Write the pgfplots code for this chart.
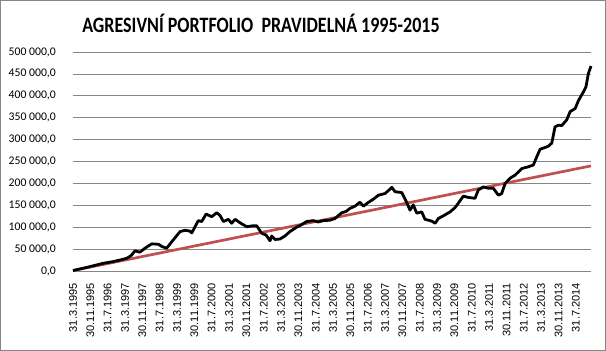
\documentclass[border=0pt]{standalone}
\usepackage{pgfplots}
\pgfplotsset{compat=1.18}
\usepackage{fontspec}
\setmainfont{Carlito}
\newfontfamily\arialf{Liberation Sans}
\definecolor{gridgray}{RGB}{134,134,134}
\definecolor{redline}{RGB}{192,80,77}
\begin{document}
\begin{tikzpicture}
\begin{axis}[
  at={(0pt,0pt)}, anchor=south west,
  scale only axis, width=518pt, height=219pt,
  xmin=0, xmax=239, ymin=0, ymax=500000,
  axis x line*=bottom, axis y line*=left,
  y axis line style={draw=none},
  x axis line style={draw=gridgray, line width=0.8pt},
  major tick length=0pt,
  scaled y ticks=false,
  ymajorgrids, grid style={gridgray, line width=0.8pt},
  ytick={0,50000,...,500000},
  yticklabels={{0,0},{50 000,0},{100 000,0},{150 000,0},{200 000,0},{250 000,0},{300 000,0},{350 000,0},{400 000,0},{450 000,0},{500 000,0}},
  yticklabel style={font=\fontsize{11.7}{12}\selectfont, anchor=east, inner sep=0pt},
  yticklabel shift=17pt,
  xtick={0,8,...,232},
  xticklabels={31.3.1995,30.11.1995,31.7.1996,31.3.1997,30.11.1997,31.7.1998,31.3.1999,30.11.1999,31.7.2000,31.3.2001,30.11.2001,31.7.2002,31.3.2003,30.11.2003,31.7.2004,31.3.2005,30.11.2005,31.7.2006,31.3.2007,30.11.2007,31.7.2008,31.3.2009,30.11.2009,31.7.2010,31.3.2011,30.11.2011,31.7.2012,31.3.2013,30.11.2013,31.7.2014},
  xticklabel style={font=\arialf\fontsize{11}{12}\selectfont, rotate=90, anchor=east, inner sep=0pt},
  xticklabel shift=12pt,
  clip=false,
]
\addplot[redline, line width=2.7pt] coordinates {(0,1000) (239,240000)};
\addplot[black, line width=2.8pt, line join=round] coordinates {
(0,1000) (7,9000) (14,17600) (18,21000) (21.7,25000) (24.8,29000) (26.8,35000) (28.6,46000) (30.9,43000) (33.2,52000) (36.3,62000) (39.4,61000) (41,56000) (43.2,52000) (46.1,70000) (49.4,90000) (51.7,93000) (54,91000) (54.8,87000) (57.8,115000) (59.4,113000) (61.4,130000) (64,124000) (66.3,133000) (67.8,127000) (69.4,113000) (71.7,118000) (73.2,109000) (74.8,118000) (77.1,110000) (80.2,101000) (82.6,103000) (84.8,103000) (87.1,86000) (89.1,82000) (90.9,69000) (91.7,80000) (93.2,72000) (95.5,73000) (97.8,80000) (100.1,90000) (103.2,100000) (105.2,105000) (107.8,113000) (110.9,115000) (113.1,112000) (115.5,115000) (118.6,116000) (120.9,120000) (124,133000) (126,136000) (127.8,143000) (130.1,148000) (132.4,157000) (134,148000) (136.1,156000) (138.6,164000) (140.9,173000) (144,177000) (145.4,183000) (147.1,191000) (148.6,181000) (151.7,179000) (154,156000) (155.5,139000) (157,151000) (158.6,132000) (160.9,135000) (162.4,118000) (165.5,114000) (167.1,109000) (168.6,120000) (170.9,126000) (174,135000) (176.3,145000) (177.8,155000) (180.1,171000) (182.4,168000) (185.5,166000) (187,185000) (189.3,192000) (191.6,189000) (193.9,189000) (196.3,173000) (197.8,177000) (199.4,200000) (201.7,212000) (204,219000) (207.1,234000) (210.1,238000) (212.4,242000) (214,261000) (215.5,278000) (217.8,282000) (219.3,285000) (220.9,292000) (222.4,329000) (224,333000) (225.5,332000) (227.8,345000) (229.4,364000) (231.7,371000) (233.2,389000) (235.5,409000) (236.7,421000) (237.8,451000) (239,468000)
};
\end{axis}
\draw[gridgray, line width=0.8pt] (-72.6pt,-79.6pt) rectangle (532.6pt,270.6pt);
\node[font=\fontsize{18}{20}\selectfont\bfseries, yscale=1.22] at (188pt,247.5pt) {AGRESIVNÍ PORTFOLIO\ \ PRAVIDELNÁ 1995-2015};
\end{tikzpicture}
\end{document}
